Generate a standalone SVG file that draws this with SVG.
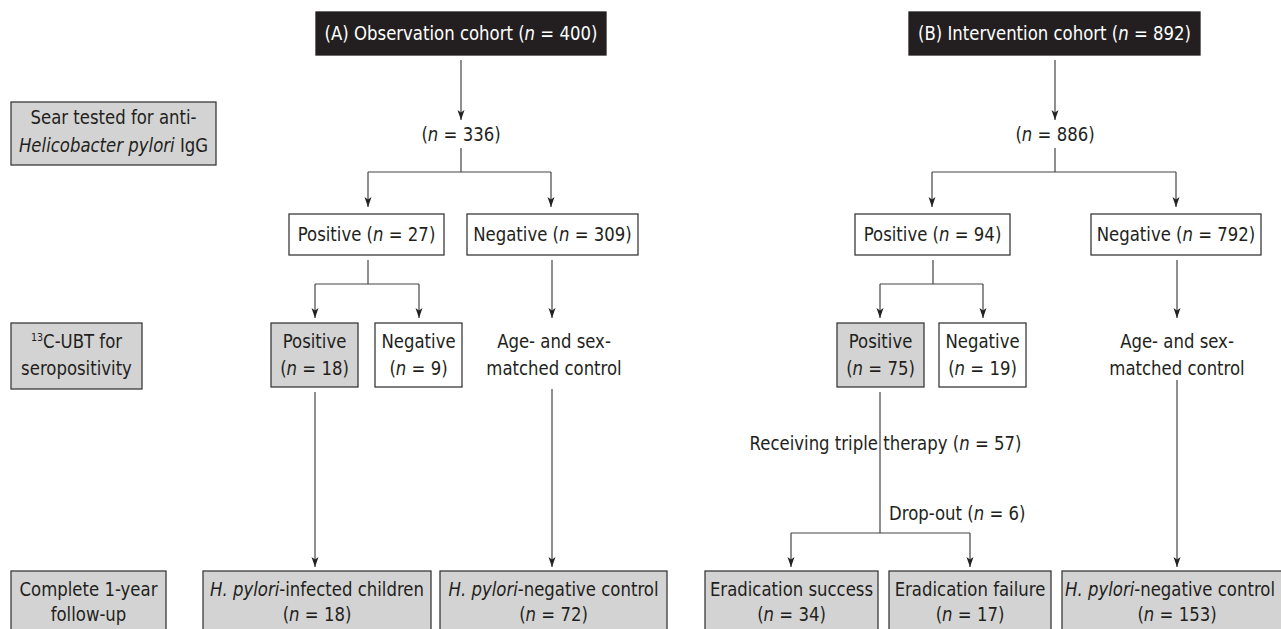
<svg xmlns="http://www.w3.org/2000/svg" width="1281" height="629" viewBox="0 0 1281 629">
<style>
text{font-family:"DejaVu Sans","Verdana",sans-serif;font-size:19px;fill:#231f20;text-anchor:middle}
.wt{fill:#ffffff}
.st{text-anchor:start}
.i{font-style:italic}
.box{stroke:#3a3a3a;stroke-width:1.3}
.g{fill:#d3d3d3}
.w{fill:#ffffff}
.k{fill:#231f20;stroke:#231f20}
.ln{stroke:#444444;stroke-width:1.2;fill:none}
.ar{marker-end:url(#ah)}
</style>
<defs>
<marker id="ah" markerUnits="userSpaceOnUse" markerWidth="11" markerHeight="9" refX="10" refY="3.5" orient="auto">
<path d="M0,0 L10,3.5 L0,7 L2.5,3.5 Z" fill="#222222"/>
</marker>
</defs>
<rect x="0" y="0" width="1281" height="629" fill="#ffffff"/>

<g id="connectors">
<path class="ln ar" d="M461,60 V120"/>
<path class="ln" d="M461,148 V172 M368,172 H551"/>
<path class="ln ar" d="M368,172 V207"/>
<path class="ln ar" d="M551,172 V207"/>
<path class="ln" d="M368,260 V284 M315,284 H419"/>
<path class="ln ar" d="M315,284 V318"/>
<path class="ln ar" d="M419,284 V318"/>
<path class="ln ar" d="M552,260 V318"/>
<path class="ln ar" d="M315,392 V567"/>
<path class="ln ar" d="M552,389 V567"/>
<path class="ln ar" d="M1055,60 V120"/>
<path class="ln" d="M1055,148 V172 M932,172 H1176"/>
<path class="ln ar" d="M932,172 V207"/>
<path class="ln ar" d="M1176,172 V207"/>
<path class="ln" d="M933,260 V284 M880,284 H983"/>
<path class="ln ar" d="M880,284 V318"/>
<path class="ln ar" d="M983,284 V318"/>
<path class="ln ar" d="M1177,260 V318"/>
<path class="ln" d="M880,392 V533 M791,533 H970"/>
<path class="ln ar" d="M791,533 V567"/>
<path class="ln ar" d="M970,533 V567"/>
<path class="ln ar" d="M1177,380 V567"/>
</g>

<g id="cohortA">
<rect class="box k" x="316" y="12" width="290" height="43"/>
<text class="wt" transform="translate(461,40) scale(0.87,1)">(A) Observation cohort (<tspan class="i">n</tspan> = 400)</text>
</g>
<g id="cohortB">
<rect class="box k" x="909" y="12" width="291" height="43"/>
<text class="wt" transform="translate(1054.5,40) scale(0.87,1)">(B) Intervention cohort (<tspan class="i">n</tspan> = 892)</text>
</g>
<g id="countA">
<text transform="translate(461,141) scale(0.87,1)">(<tspan class="i">n</tspan> = 336)</text>
</g>
<g id="countB">
<text transform="translate(1055,141) scale(0.87,1)">(<tspan class="i">n</tspan> = 886)</text>
</g>
<g id="rowSera">
<rect class="box g" x="11" y="102" width="205" height="63"/>
<text transform="translate(113.5,124) scale(0.87,1)">Sear tested for anti-</text>
<text transform="translate(113.5,152) scale(0.87,1)"><tspan class="i">Helicobacter pylori</tspan> IgG</text>
</g>
<g id="posA">
<rect class="box w" x="289" y="214" width="155" height="41"/>
<text transform="translate(366.5,241) scale(0.87,1)">Positive (<tspan class="i">n</tspan> = 27)</text>
</g>
<g id="negA">
<rect class="box w" x="467" y="214" width="171" height="41"/>
<text transform="translate(552.5,241) scale(0.87,1)">Negative (<tspan class="i">n</tspan> = 309)</text>
</g>
<g id="posB">
<rect class="box w" x="855" y="214" width="155" height="41"/>
<text transform="translate(932.5,241) scale(0.87,1)">Positive (<tspan class="i">n</tspan> = 94)</text>
</g>
<g id="negB">
<rect class="box w" x="1091" y="214" width="170" height="41"/>
<text transform="translate(1176,241) scale(0.87,1)">Negative (<tspan class="i">n</tspan> = 792)</text>
</g>
<g id="rowUBT">
<rect class="box g" x="11" y="323" width="131" height="66"/>
<text transform="translate(76.5,348) scale(0.87,1)"><tspan font-size="11" dy="-7">13</tspan><tspan dy="7">C-UBT for</tspan></text>
<text transform="translate(76.5,375) scale(0.87,1)">seropositivity</text>
</g>
<g id="ubtPosA">
<rect class="box g" x="271" y="323" width="87" height="64"/>
<text transform="translate(314.5,348) scale(0.87,1)">Positive</text>
<text transform="translate(314.5,375) scale(0.87,1)">(<tspan class="i">n</tspan> = 18)</text>
</g>
<g id="ubtNegA">
<rect class="box w" x="375" y="323" width="87" height="64"/>
<text transform="translate(418.5,348) scale(0.87,1)">Negative</text>
<text transform="translate(418.5,375) scale(0.87,1)">(<tspan class="i">n</tspan> = 9)</text>
</g>
<g id="matchA">
<text transform="translate(554,348) scale(0.87,1)">Age- and sex-</text>
<text transform="translate(554,375) scale(0.87,1)">matched control</text>
</g>
<g id="ubtPosB">
<rect class="box g" x="837" y="323" width="87" height="64"/>
<text transform="translate(880.5,348) scale(0.87,1)">Positive</text>
<text transform="translate(880.5,375) scale(0.87,1)">(<tspan class="i">n</tspan> = 75)</text>
</g>
<g id="ubtNegB">
<rect class="box w" x="939" y="323" width="87" height="64"/>
<text transform="translate(982.5,348) scale(0.87,1)">Negative</text>
<text transform="translate(982.5,375) scale(0.87,1)">(<tspan class="i">n</tspan> = 19)</text>
</g>
<g id="matchB">
<text transform="translate(1177,348) scale(0.87,1)">Age- and sex-</text>
<text transform="translate(1177,375) scale(0.87,1)">matched control</text>
</g>
<g id="therapy">
<text transform="translate(885.5,450) scale(0.87,1)">Receiving triple therapy (<tspan class="i">n</tspan> = 57)</text>
</g>
<g id="dropout">
<text class="st" transform="translate(889,520) scale(0.87,1)">Drop-out (<tspan class="i">n</tspan> = 6)</text>
</g>
<g id="rowFollow">
<rect class="box g" x="11" y="571" width="155" height="70"/>
<text transform="translate(88.5,596) scale(0.87,1)">Complete 1-year</text>
<text transform="translate(88.5,621) scale(0.87,1)">follow-up</text>
</g>
<g id="infected">
<rect class="box g" x="203" y="571" width="228" height="70"/>
<text transform="translate(317,596) scale(0.87,1)"><tspan class="i">H. pylori</tspan>-infected children</text>
<text transform="translate(317,621) scale(0.87,1)">(<tspan class="i">n</tspan> = 18)</text>
</g>
<g id="negCtlA">
<rect class="box g" x="440" y="571" width="227" height="70"/>
<text transform="translate(553.5,596) scale(0.87,1)"><tspan class="i">H. pylori</tspan>-negative control</text>
<text transform="translate(553.5,621) scale(0.87,1)">(<tspan class="i">n</tspan> = 72)</text>
</g>
<g id="success">
<rect class="box g" x="705" y="571" width="173" height="70"/>
<text transform="translate(791.5,596) scale(0.87,1)">Eradication success</text>
<text transform="translate(791.5,621) scale(0.87,1)">(<tspan class="i">n</tspan> = 34)</text>
</g>
<g id="failure">
<rect class="box g" x="889" y="571" width="162" height="70"/>
<text transform="translate(970,596) scale(0.87,1)">Eradication failure</text>
<text transform="translate(970,621) scale(0.87,1)">(<tspan class="i">n</tspan> = 17)</text>
</g>
<g id="negCtlB">
<rect class="box g" x="1062" y="571" width="230" height="70"/>
<text transform="translate(1170,596) scale(0.87,1)"><tspan class="i">H. pylori</tspan>-negative control</text>
<text transform="translate(1177,621) scale(0.87,1)">(<tspan class="i">n</tspan> = 153)</text>
</g>
</svg>
